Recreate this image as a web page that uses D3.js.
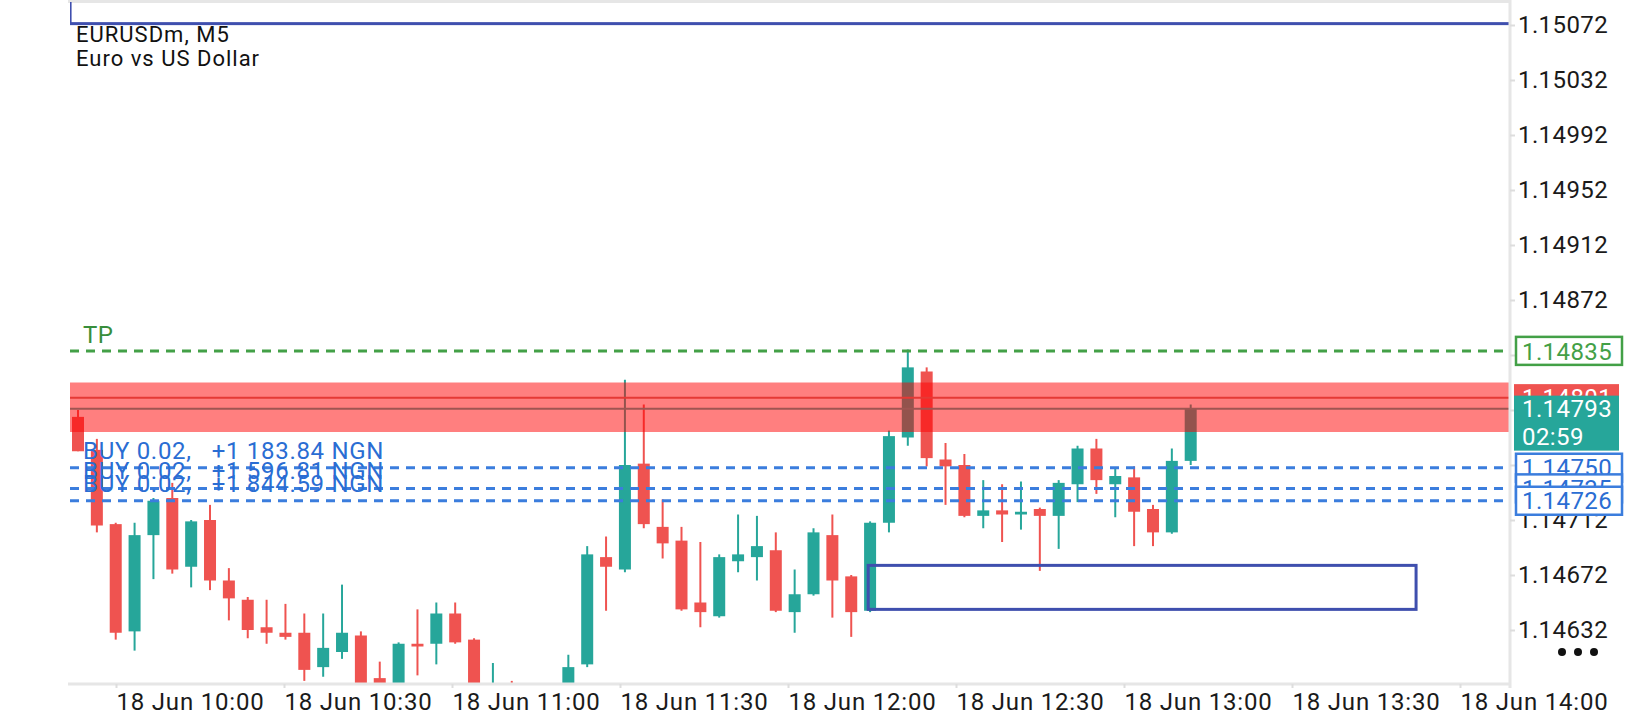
<!DOCTYPE html>
<html>
<head>
<meta charset="utf-8">
<script src="https://cdn.jsdelivr.net/npm/d3@7"></script>
<style>
  body { margin: 0; background: #fff; }
  svg { display: block; font-family: Roboto, sans-serif; }
</style>
</head>
<body>
<div id="wrapper"></div>
<script>
// symbol header
const symbolTitle = "EURUSDm, M5"
const symbolName = "Euro vs US Dollar"

// M5 candles, oldest first
const opens = [1.14787, 1.14763, 1.14709, 1.14631, 1.14701, 1.14728, 1.14678, 1.14712, 1.14668, 1.14654,
  1.14634, 1.14630, 1.14630, 1.14605, 1.14616, 1.14628, 1.14597, 1.14582, 1.14622, 1.14622,
  1.14644, 1.14625, 1.14572, 1.14588, 1.14570, 1.14565, 1.14580, 1.14607, 1.14685, 1.14676,
  1.14753, 1.14707, 1.14697, 1.14652, 1.14642, 1.14682, 1.14685, 1.14690, 1.14645, 1.14658,
  1.14701, 1.14671, 1.14646, 1.14710, 1.14772, 1.14820, 1.14756, 1.14752, 1.14715, 1.14719,
  1.14716, 1.14720, 1.14715, 1.14738, 1.14764, 1.14738, 1.14743, 1.14720, 1.14703, 1.14755]
const highs = [1.14792, 1.14771, 1.14710, 1.14710, 1.14728, 1.14739, 1.14712, 1.14723, 1.14677, 1.14656,
  1.14654, 1.14651, 1.14644, 1.14644, 1.14665, 1.14631, 1.14609, 1.14623, 1.14647, 1.14652,
  1.14652, 1.14626, 1.14608, 1.14595, 1.14585, 1.14588, 1.14614, 1.14693, 1.14700, 1.14814,
  1.14796, 1.14727, 1.14707, 1.14696, 1.14687, 1.14716, 1.14715, 1.14703, 1.14676, 1.14706,
  1.14716, 1.14672, 1.14711, 1.14777, 1.14836, 1.14823, 1.14768, 1.14760, 1.14741, 1.14738,
  1.14740, 1.14721, 1.14741, 1.14766, 1.14771, 1.14750, 1.14751, 1.14723, 1.14764, 1.14796]
const lows = [1.14762, 1.14703, 1.14625, 1.14617, 1.14669, 1.14673, 1.14663, 1.14661, 1.14639, 1.14626,
  1.14622, 1.14625, 1.14595, 1.14598, 1.14611, 1.14585, 1.14578, 1.14576, 1.14599, 1.14607,
  1.14622, 1.14570, 1.14565, 1.14562, 1.14555, 1.14558, 1.14575, 1.14605, 1.14646, 1.14674,
  1.14706, 1.14684, 1.14646, 1.14634, 1.14641, 1.14674, 1.14668, 1.14645, 1.14630, 1.14657,
  1.14641, 1.14627, 1.14645, 1.14703, 1.14766, 1.14751, 1.14723, 1.14714, 1.14706, 1.14696,
  1.14705, 1.14675, 1.14691, 1.14725, 1.14731, 1.14714, 1.14693, 1.14693, 1.14702, 1.14752]
const closes = [1.14762, 1.14708, 1.14630, 1.14701, 1.14726, 1.14676, 1.14711, 1.14668, 1.14655, 1.14632,
  1.14630, 1.14627, 1.14603, 1.14619, 1.14630, 1.14590, 1.14584, 1.14622, 1.14620, 1.14644,
  1.14623, 1.14575, 1.14588, 1.14570, 1.14565, 1.14580, 1.14605, 1.14687, 1.14678, 1.14752,
  1.14709, 1.14695, 1.14647, 1.14645, 1.14685, 1.14687, 1.14693, 1.14646, 1.14658, 1.14703,
  1.14668, 1.14645, 1.14710, 1.14773, 1.14823, 1.14757, 1.14751, 1.14715, 1.14719, 1.14716,
  1.14718, 1.14715, 1.14739, 1.14764, 1.14741, 1.14744, 1.14718, 1.14703, 1.14755, 1.14793]

// axis ticks
const priceTicks = [1.14632, 1.14672, 1.14712, 1.14752, 1.14792, 1.14832, 1.14872, 1.14912, 1.14952, 1.14992, 1.15032, 1.15072]
const timeTicks = ["10:00", "10:30", "11:00", "11:30", "12:00", "12:30", "13:00", "13:30", "14:00"]

// trade levels and drawn objects
const tpPrice = 1.14835
const buyPrices = [1.14750, 1.14735, 1.14726]
const buyProfits = ["+1 183.84 NGN", "+1 596.81 NGN", "+1 844.59 NGN"]
const buyVolume = "0.02"
const zoneBand = [1.14776, 1.14812]
const levelPrice = 1.14801
const bidPrice = 1.14793
const countdown = "02:59"
const topBox = [-0.42, 80, 1.15073, 1.15300]     // [from bar, to bar, low, high]
const lowerBox = [41.9, 70.95, 1.14647, 1.14679]

const bull = "#26a69a"
const bear = "#ef5350"

let dimensions = {
  width: 1640,
  height: 720,
  plotLeft: 70,
  plotRight: 1510,
  plotTop: 2,
  plotBottom: 684,
}

const svg = d3.select("#wrapper")
  .append("svg")
  .attr("width", dimensions.width)
  .attr("height", dimensions.height)

// scales
const xScale = d3.scaleLinear()
  .domain([0, opens.length - 1])
  .range([78, 1190.7])

const yScale = d3.scaleLinear()
  .domain([priceTicks[0], priceTicks[priceTicks.length - 1]])
  .range([630, 25])

const parseTime = d3.timeParse("%Y-%m-%d %H:%M")
const timeScale = d3.scaleTime()
  .domain([parseTime("2025-06-18 10:00"), parseTime("2025-06-18 14:00")])
  .range([116, 1460])

svg.append("defs").append("clipPath")
  .attr("id", "plot-clip")
  .append("rect")
  .attr("x", dimensions.plotLeft)
  .attr("y", dimensions.plotTop)
  .attr("width", dimensions.plotRight - dimensions.plotLeft)
  .attr("height", dimensions.plotBottom - dimensions.plotTop)

// frame
svg.append("line")
  .attr("x1", 68).attr("x2", dimensions.plotRight)
  .attr("y1", 1.5).attr("y2", 1.5)
  .attr("stroke", "#e6e6e6").attr("stroke-width", 3)

const plot = svg.append("g").attr("clip-path", "url(#plot-clip)")

// candles
const candles = opens.map((o, i) => ({ i, o, h: highs[i], l: lows[i], c: closes[i] }))
const colorOf = d => d.c >= d.o ? bull : bear

plot.append("g").selectAll("line")
  .data(candles)
  .join("line")
  .attr("x1", d => xScale(d.i))
  .attr("x2", d => xScale(d.i))
  .attr("y1", d => yScale(d.h))
  .attr("y2", d => yScale(d.l))
  .attr("stroke", colorOf)
  .attr("stroke-width", 2)

plot.append("g").selectAll("rect")
  .data(candles)
  .join("rect")
  .attr("x", d => xScale(d.i) - 6)
  .attr("width", 12)
  .attr("y", d => yScale(Math.max(d.o, d.c)))
  .attr("height", d => Math.max(2, Math.abs(yScale(d.o) - yScale(d.c))))
  .attr("fill", colorOf)

// resistance zone over the candles
plot.append("rect")
  .attr("x", dimensions.plotLeft)
  .attr("width", dimensions.plotRight - dimensions.plotLeft)
  .attr("y", yScale(zoneBand[1]))
  .attr("height", yScale(zoneBand[0]) - yScale(zoneBand[1]))
  .attr("fill", "rgba(255,0,0,0.5)")

const hLine = (price, color, width, dash) => plot.append("line")
  .attr("x1", dimensions.plotLeft).attr("x2", dimensions.plotRight)
  .attr("y1", yScale(price)).attr("y2", yScale(price))
  .attr("stroke", color)
  .attr("stroke-width", width)
  .attr("stroke-dasharray", dash)

hLine(levelPrice, "#e53935", 2, null)
hLine(bidPrice, "#9e5552", 2, null)
hLine(tpPrice, "#43a047", 3, "9,7")
buyPrices.forEach(p => hLine(p, "#3b7ddd", 3, "9,7"))

// rectangles drawn on the chart
const drawBox = b => plot.append("rect")
  .attr("x", xScale(b[0]))
  .attr("width", xScale(b[1]) - xScale(b[0]))
  .attr("y", yScale(b[3]))
  .attr("height", yScale(b[2]) - yScale(b[3]))
  .attr("fill", "none")
  .attr("stroke", "#3f4fae")
  .attr("stroke-width", 3)
drawBox(topBox)
drawBox(lowerBox)

// level texts
plot.append("text")
  .attr("x", 83)
  .attr("y", yScale(tpPrice) - 8)
  .attr("fill", "#388e3c")
  .style("font-size", "24px")
  .style("letter-spacing", "0.5px")
  .text("TP")

plot.append("g").selectAll("text")
  .data(buyPrices)
  .join("text")
  .attr("x", 83)
  .attr("y", d => yScale(d) - 9)
  .attr("fill", "#2a6dd3")
  .style("font-size", "24px")
  .style("letter-spacing", "0.7px")
  .text((d, i) => `BUY ${buyVolume},\u00a0\u00a0\u00a0${buyProfits[i]}`)

// header
svg.append("g").selectAll("text")
  .data([symbolTitle, symbolName])
  .join("text")
  .attr("x", 76)
  .attr("y", (d, i) => 42 + i * 24)
  .attr("fill", "#111")
  .style("font-size", "22px")
  .style("letter-spacing", "1px")
  .text(d => d)

// price axis
svg.append("line")
  .attr("x1", dimensions.plotRight).attr("x2", dimensions.plotRight)
  .attr("y1", 0).attr("y2", 688)
  .attr("stroke", "#e6e6e6").attr("stroke-width", 3)

const yAxis = svg.append("g")
  .attr("transform", `translate(${dimensions.plotRight},0)`)
  .call(d3.axisRight(yScale)
    .tickValues(priceTicks)
    .tickFormat(d3.format(".5f"))
    .tickSize(5)
    .tickPadding(3))
yAxis.select(".domain").remove()
yAxis.selectAll(".tick line").attr("stroke", "#dddddd").attr("stroke-width", 2)
yAxis.selectAll(".tick text")
  .attr("fill", "#1a1a1a")
  .style("font-size", "24px")
  .style("letter-spacing", "0.4px")
  .style("font-family", "Roboto, sans-serif")

// time axis
svg.append("line")
  .attr("x1", 68).attr("x2", dimensions.plotRight)
  .attr("y1", dimensions.plotBottom).attr("y2", dimensions.plotBottom)
  .attr("stroke", "#e6e6e6").attr("stroke-width", 3)

const xAxis = svg.append("g")
  .attr("transform", `translate(0,${dimensions.plotBottom})`)
  .call(d3.axisBottom(timeScale)
    .tickValues(timeTicks.map(t => parseTime("2025-06-18 " + t)))
    .tickFormat(d3.timeFormat("%d %b %H:%M"))
    .tickSize(4))
xAxis.select(".domain").remove()
xAxis.selectAll(".tick line").attr("stroke", "#dddddd").attr("stroke-width", 2)
xAxis.selectAll(".tick text")
  .attr("text-anchor", "start")
  .attr("x", 0)
  .attr("y", 26)
  .attr("dy", 0)
  .attr("fill", "#1a1a1a")
  .style("font-size", "24px")
  .style("letter-spacing", "0.8px")
  .style("font-family", "Roboto, sans-serif")

// price labels on the axis
const fmt = d3.format(".5f")
const priceTag = (price, opts) => {
  const g = svg.append("g")
  g.append("rect")
    .attr("x", opts.x)
    .attr("y", yScale(price) - opts.above)
    .attr("width", opts.w)
    .attr("height", opts.h)
    .attr("fill", opts.fill)
    .attr("stroke", opts.stroke || "none")
    .attr("stroke-width", 2.5)
  g.append("text")
    .attr("x", 1522)
    .attr("y", yScale(price))
    .attr("dy", "0.36em")
    .attr("fill", opts.color)
    .style("font-size", "24px")
    .style("letter-spacing", "0.4px")
    .text(fmt(price))
  return g
}

priceTag(tpPrice, { x: 1516, above: 14, w: 106, h: 28, fill: "#fff", stroke: "#43a047", color: "#43a047" })
priceTag(levelPrice, { x: 1514, above: 13.5, w: 105, h: 27, fill: bear, color: "#fff" })
const bidTag = priceTag(bidPrice, { x: 1514, above: 13, w: 105, h: 55, fill: bull, color: "#fff" })
bidTag.append("text")
  .attr("x", 1522)
  .attr("y", yScale(bidPrice) + 36)
  .attr("fill", "#fff")
  .style("font-size", "24px")
  .style("letter-spacing", "0.4px")
  .text(countdown)
buyPrices.forEach(p => priceTag(p, { x: 1516, above: 14, w: 106, h: 28, fill: "#fff", stroke: "#3b7ddd", color: "#2a6dd3" }))

// menu dots
svg.append("g").selectAll("circle")
  .data([0, 1, 2])
  .join("circle")
  .attr("cx", d => 1562 + d * 16)
  .attr("cy", 652)
  .attr("r", 4)
  .attr("fill", "#111")
</script>
</body>
</html>
